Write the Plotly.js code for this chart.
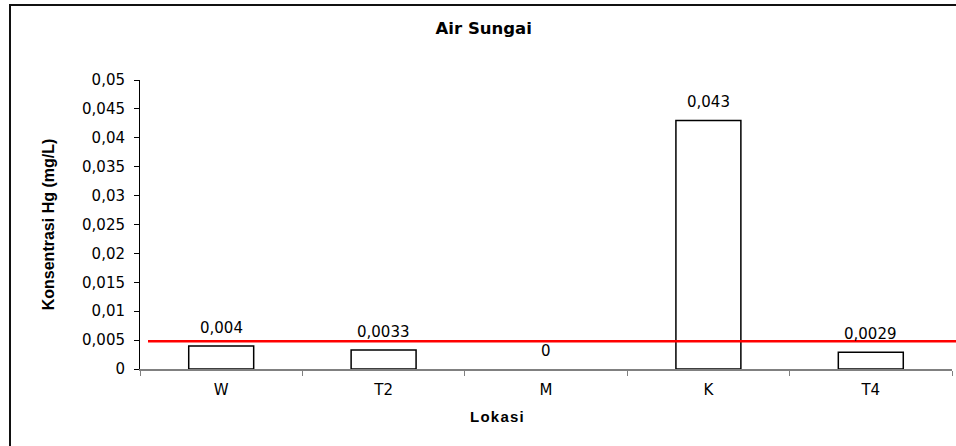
<!DOCTYPE html>
<html>
<head>
<meta charset="utf-8">
<script src="https://cdn.plot.ly/plotly-3.0.1.min.js"></script>
<style>html,body{margin:0;padding:0;background:#fff;}#chart{width:956px;height:446px;}</style>
</head>
<body>
<div id="chart"></div>
<script>
const categories = ["W", "T2", "M", "K", "T4"];
const values = [0.004, 0.0033, 0, 0.043, 0.0029];
const labels = ["0,004", "0,0033", "0", "0,043", "0,0029"];
const standardLimit = 0.0048;
const yTicks = [0, 0.005, 0.01, 0.015, 0.02, 0.025, 0.03, 0.035, 0.04, 0.045, 0.05];

const wideFont = "DejaVu Sans, Verdana, sans-serif";
const boldFont = "Liberation Sans, Arial, sans-serif";

const trace = {
  type: "bar",
  x: categories,
  y: values,
  marker: {color: "#ffffff", line: {color: "#000000", width: values.map(v => v === 0 ? 0 : 1.5)}},
  hoverinfo: "none"
};

const annotations = categories.map((c, i) => ({
  x: c, y: values[i], xref: "x", yref: "y",
  text: labels[i], showarrow: false, yanchor: "bottom", yshift: 7,
  font: {family: wideFont, size: 15, color: "#000"}
}));
annotations.push({
  xref: "paper", yref: "paper", x: (497 - 140) / 812, y: -48 / 289,
  xanchor: "center", yanchor: "middle", showarrow: false,
  text: "<b>L\u200Ao\u200Ak\u200Aa\u200As\u200Ai</b>",
  font: {family: boldFont, size: 15, color: "#000"}
});

const layout = {
  width: 956, height: 446,
  margin: {l: 140, r: 4, t: 80, b: 77},
  paper_bgcolor: "#ffffff", plot_bgcolor: "#ffffff",
  showlegend: false,
  bargap: 0.6,
  font: {family: wideFont, size: 15, color: "#000"},
  title: {text: "<b>Air Sungai</b>", x: 0.506, xanchor: "center", y: 1 - 28/446, yanchor: "middle",
          font: {family: wideFont, size: 16.5, color: "#000"}},
  xaxis: {
    type: "category",
    tickson: "boundaries",
    ticks: "outside", ticklen: 5, tickcolor: "#808080",
    showline: true, linecolor: "#808080", linewidth: 1.5,
    showgrid: false, zeroline: false,
    ticklabelstandoff: 6,
    tickfont: {family: wideFont, size: 15}
  },
  yaxis: {
    range: [0, 0.05],
    tickvals: yTicks,
    ticktext: yTicks.map(v => String(v).replace(".", ",")),
    ticks: "outside", ticklen: 5, tickcolor: "#000",
    showline: true, linecolor: "#000", linewidth: 1,
    showgrid: false, zeroline: false,
    ticklabelstandoff: 6,
    tickfont: {family: wideFont, size: 15},
    title: {text: "<b>Konsentrasi Hg (mg/L)</b>", standoff: 23,
            font: {family: boldFont, size: 16}}
  },
  annotations: annotations,
  shapes: [
    {type: "line", xref: "paper", yref: "y", x0: 8/812, x1: 1.02, y0: standardLimit, y1: standardLimit,
     line: {color: "#ff0000", width: 2.5}},
    {type: "rect", xref: "paper", yref: "paper",
     x0: -130/812, x1: 1.2, y0: -0.6, y1: 1 + 75/289,
     line: {color: "#111", width: 2}, fillcolor: "rgba(0,0,0,0)"}
  ]
};

Plotly.newPlot("chart", [trace], layout, {staticPlot: true, displayModeBar: false});
</script>
</body>
</html>
